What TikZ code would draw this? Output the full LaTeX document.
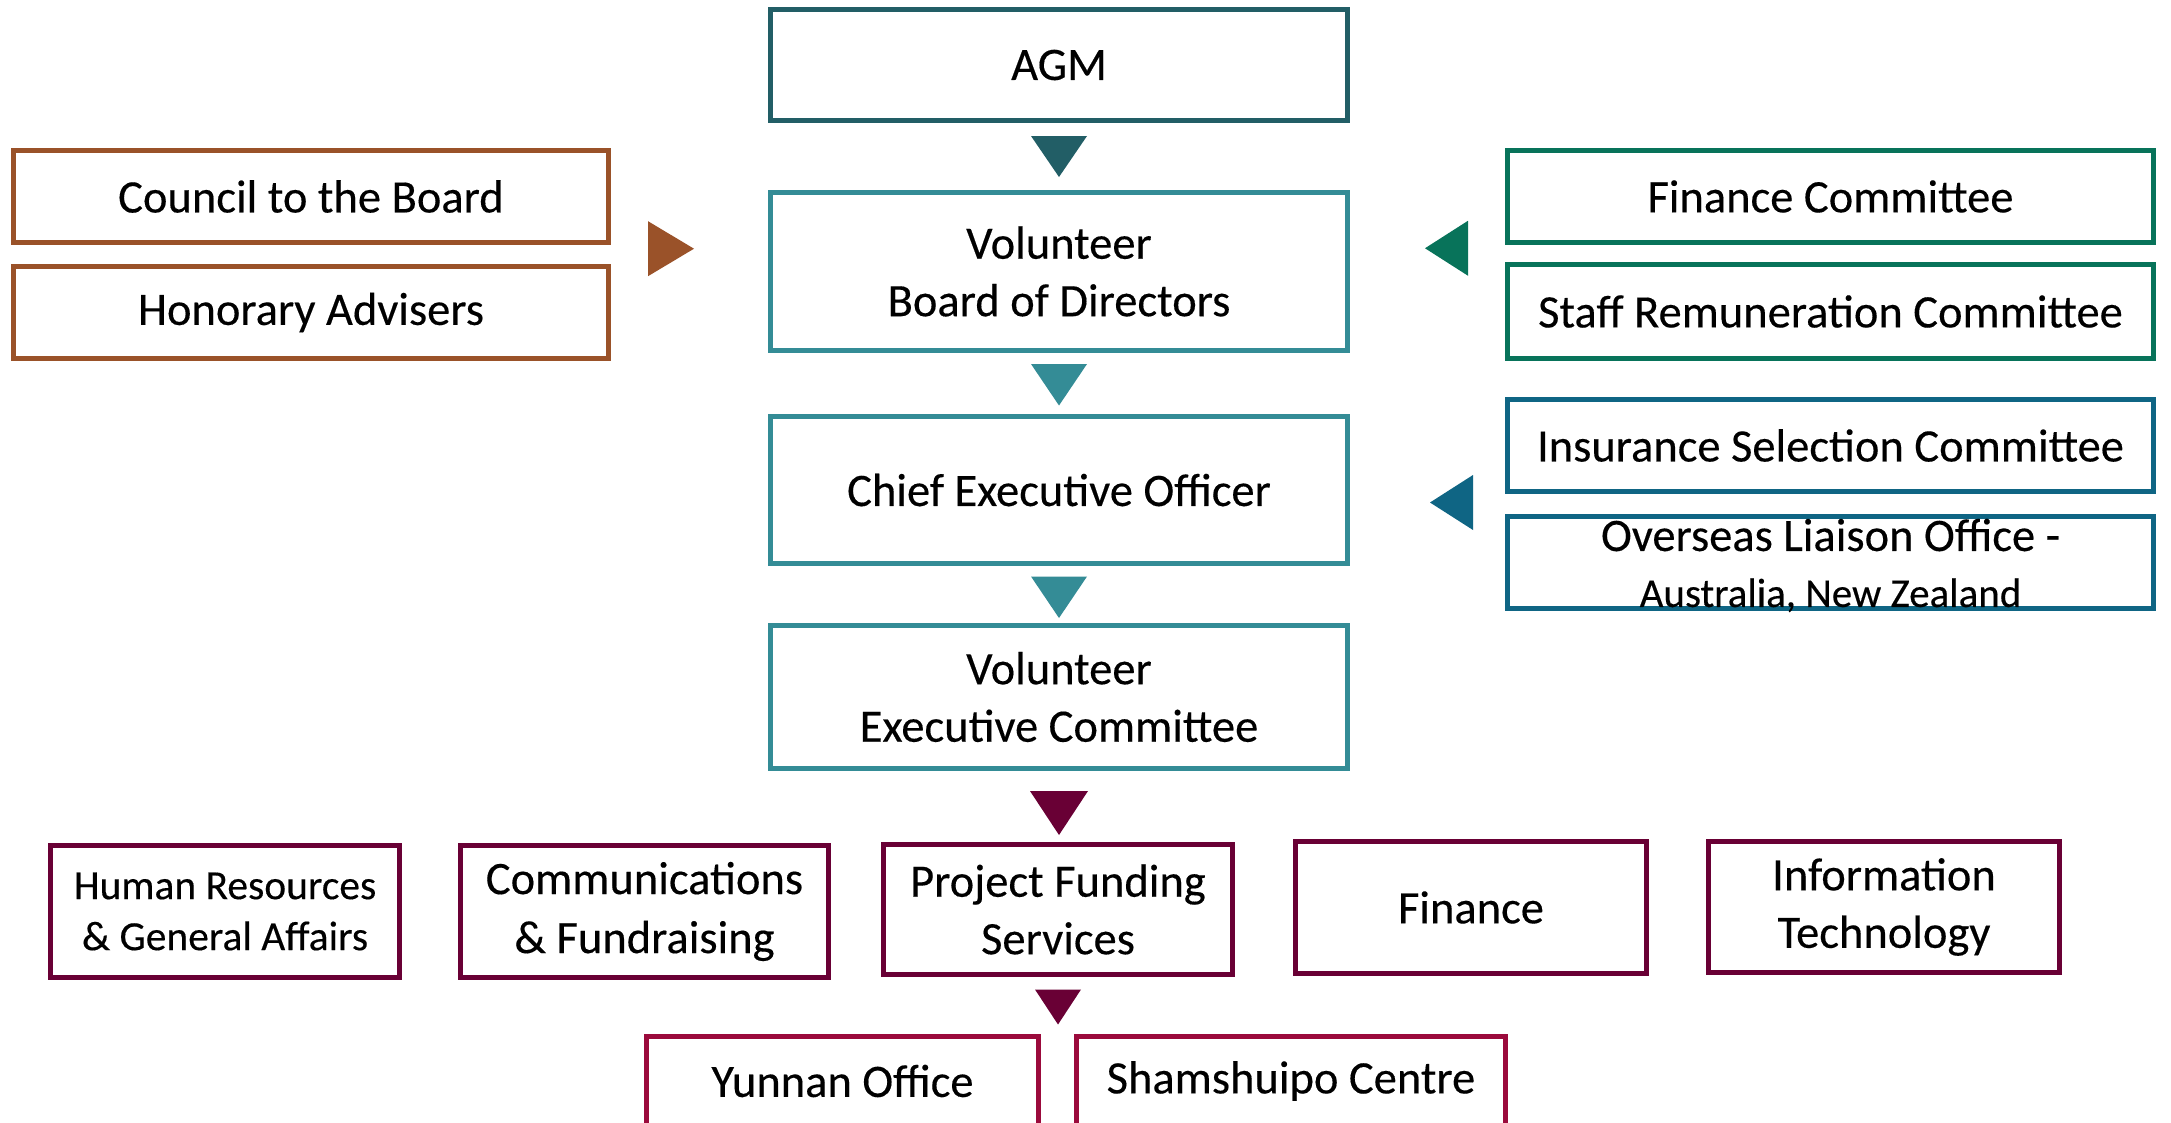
\documentclass[tikz,border=0pt]{standalone}
\usepackage{fontspec}
\setmainfont{Carlito}[FakeBold=0.3]
\usetikzlibrary{calc}
\definecolor{agmc}{HTML}{225E66}
\definecolor{tealc}{HTML}{348C96}
\definecolor{brownc}{HTML}{9A5229}
\definecolor{greenc}{HTML}{08735A}
\definecolor{bluec}{HTML}{0F6584}
\definecolor{maroonc}{HTML}{690035}
\definecolor{crimsonc}{HTML}{9B0A3C}
\tikzset{
  box/.style={draw=#1, line width=5pt, rectangle, align=center, inner sep=0pt,
    font=\fontsize{46.5}{57.5}\selectfont, text=black},
  tri/.style={fill=#1, draw=none},
}
\begin{document}
\begin{tikzpicture}[x=1pt,y=-1pt]
\clip (0,0) rectangle (2171,1122);
\fill[white] (0,0) rectangle (2171,1122);
% central column
\node[box=agmc, minimum width=577pt, minimum height=111pt] (agm) at (1059,65) {AGM};
\node[box=tealc, minimum width=577pt, minimum height=158pt] (board) at (1059,271.5) {Volunteer\\Board of Directors};
\node[box=tealc, minimum width=577pt, minimum height=147pt] (ceo) at (1059,490) {Chief Executive Officer};
\node[box=tealc, minimum width=577pt, minimum height=143pt] (vec) at (1059,697) {Volunteer\\Executive Committee};
% left
\node[box=brownc, minimum width=595pt, minimum height=92pt] (council) at (311,196.5) {Council to the Board};
\node[box=brownc, minimum width=595pt, minimum height=92pt] (honorary) at (311,312.5) {Honorary Advisers};
% right
\node[box=greenc, minimum width=646pt, minimum height=92pt] (fincom) at (1830.5,196.5) {Finance Committee};
\node[box=greenc, minimum width=646pt, minimum height=94pt] (staff) at (1830.5,311.5) {Staff Remuneration Committee};
\node[box=bluec, minimum width=646pt, minimum height=92pt] (insur) at (1830.5,445.5) {Insurance Selection Committee};
\node[box=bluec, minimum width=646pt, minimum height=92pt] (overseas) at (1830.5,562.5) {};
\node[font=\fontsize{46.5}{54}\selectfont, align=center, inner sep=0pt] (overseastxt) at ($(overseas.center)+(0,3)$) {Overseas Liaison Office -\\[2pt]{\fontsize{41}{48}\selectfont Australia, New Zealand}};
% departments
\node[box=maroonc, minimum width=349pt, minimum height=132pt, font=\fontsize{41.5}{51}\selectfont] (hr) at (225,911.5) {Human Resources\\\&{} General Affairs};
\node[box=maroonc, minimum width=368pt, minimum height=132pt, font=\fontsize{46.5}{59}\selectfont] (comm) at (644.5,911.5) {Communications\\\&{} Fundraising};
\node[box=maroonc, minimum width=349pt, minimum height=130pt] (pfs) at (1058,909.5) {Project Funding\\Services};
\node[box=maroonc, minimum width=351pt, minimum height=132pt] (fin) at (1471,907.5) {Finance};
\node[box=maroonc, minimum width=351pt, minimum height=131pt] (it) at (1884,907) {Information\\Technology};
% offices
\node[box=crimsonc, minimum width=392pt, minimum height=121pt] (yunnan) at (842.5,1097) {};
\node[box=crimsonc, minimum width=429pt, minimum height=121pt] (ssp) at (1291,1097) {};
\node[font=\fontsize{46.5}{56}\selectfont] (yunnantxt) at (842.5,1081) {Yunnan Office};
\node[font=\fontsize{46.5}{56}\selectfont] (ssptxt) at (1291,1081) {Shamshuipo Centre};
% triangles (connectors)
\coordinate (t1) at ($(agm.south)!0.5!(board.north)$);
\fill[tri=agmc] ($(t1)+(-28,-20.5)$) -- ($(t1)+(28,-20.5)$) -- ($(t1)+(0,20.5)$) -- cycle;
\coordinate (t2) at ($(board.south)!0.5!(ceo.north)$);
\fill[tri=tealc] ($(t2)+(-28,-19.5)$) -- ($(t2)+(28,-19.5)$) -- ($(t2)+(0,22)$) -- cycle;
\coordinate (t3) at ($(ceo.south)!0.5!(vec.north)$);
\fill[tri=tealc] ($(t3)+(-28,-18)$) -- ($(t3)+(28,-18)$) -- ($(t3)+(0,23.5)$) -- cycle;
\coordinate (t4) at ($(vec.south)+(0,42)$);
\fill[tri=maroonc] ($(t4)+(-29,-22)$) -- ($(t4)+(29,-22)$) -- ($(t4)+(0,22)$) -- cycle;
\coordinate (t5) at ($(pfs.south)+(0,30)$);
\fill[tri=maroonc] ($(t5)+(-23,-17.5)$) -- ($(t5)+(23,-17.5)$) -- ($(t5)+(0,17.5)$) -- cycle;
\coordinate (t6) at ($(council.east)!0.45!(honorary.east)+(60,0)$);
\fill[tri=brownc] ($(t6)+(-23,-27.5)$) -- ($(t6)+(-23,27.5)$) -- ($(t6)+(23,0)$) -- cycle;
\coordinate (t7) at ($(fincom.west)!0.45!(staff.west)+(-58.5,0)$);
\fill[tri=greenc] ($(t7)+(21.5,-27.5)$) -- ($(t7)+(21.5,27.5)$) -- ($(t7)+(-21.5,0)$) -- cycle;
\coordinate (t8) at ($(insur.west)!0.5!(overseas.west)+(-53.5,-1.5)$);
\fill[tri=bluec] ($(t8)+(21.5,-27.5)$) -- ($(t8)+(21.5,27.5)$) -- ($(t8)+(-21.5,0)$) -- cycle;
\end{tikzpicture}
\end{document}
